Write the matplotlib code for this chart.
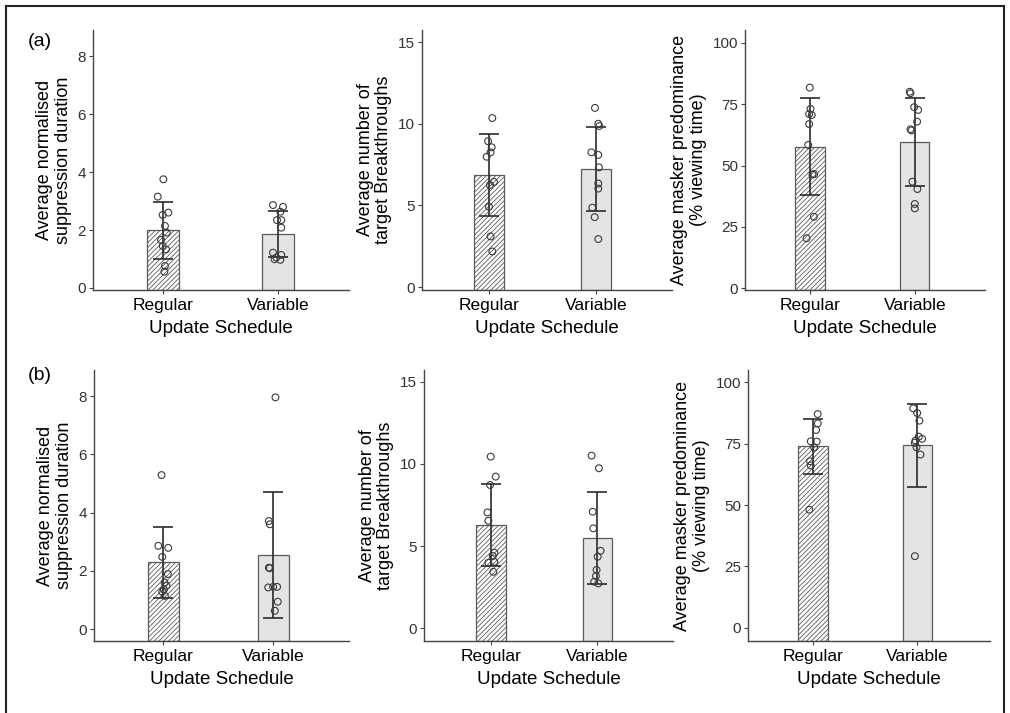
import matplotlib.pyplot as plt
from matplotlib.lines import Line2D

plt.rcParams['font.family'] = ['Liberation Sans', 'DejaVu Sans']
plt.rcParams['hatch.linewidth'] = 0.6

groups = ['Regular', 'Variable']

# ---- row (a) ----
# normalised suppression duration
a_dur_mean = [1.99, 1.86]
a_dur_err = [0.99, 0.80]
a_dur_reg = [3.75, 3.15, 2.6, 2.52, 2.14, 1.91, 1.66, 1.45, 1.33, 0.76, 0.56]
a_dur_var = [2.86, 2.8, 2.63, 2.34, 2.34, 2.08, 1.22, 1.14, 1.05, 0.97, 0.99]
a_dur_reg_jit = [0.003, -0.046, 0.046, -0.003, 0.017, 0.032, -0.017, -0.003, 0.026, 0.017, 0.012]
a_dur_var_jit = [-0.042, 0.045, 0.022, -0.007, 0.03, 0.03, -0.042, 0.03, -0.013, 0.022, -0.028]

# number of breakthroughs
a_brk_mean = [6.87, 7.22]
a_brk_err = [2.5, 2.57]
a_brk_reg = [10.35, 8.93, 8.56, 8.25, 7.98, 6.44, 6.25, 4.92, 3.1, 2.18]
a_brk_var = [10.97, 10.0, 9.86, 8.25, 8.09, 7.33, 6.34, 6.03, 4.86, 4.28, 2.94]
a_brk_reg_jit = [0.028, -0.012, 0.022, 0.012, -0.025, 0.044, 0.006, -0.003, 0.012, 0.028]
a_brk_var_jit = [-0.011, 0.02, 0.03, -0.045, 0.02, 0.026, 0.02, 0.02, -0.036, -0.014, 0.02]

# masker predominance
a_pre_mean = [57.7, 59.7]
a_pre_err = [19.7, 18.0]
a_pre_reg = [81.8, 73.1, 71.0, 70.6, 66.9, 58.4, 46.5, 46.3, 29.1, 20.3]
a_pre_var = [80.1, 79.5, 73.8, 72.7, 67.9, 64.8, 64.3, 43.4, 40.4, 34.3, 32.5]
a_pre_reg_jit = [-0.002, 0.005, -0.008, 0.017, -0.008, -0.017, 0.04, 0.024, 0.037, -0.033]
a_pre_var_jit = [-0.048, -0.041, -0.006, 0.032, 0.022, -0.041, -0.032, -0.022, 0.025, 0.0, 0.0]

# ---- row (b) ----
b_dur_mean = [2.29, 2.54]
b_dur_err = [1.22, 2.17]
b_dur_reg = [5.29, 2.86, 2.79, 2.48, 1.89, 1.6, 1.49, 1.36, 1.14, 1.28]
b_dur_var = [7.96, 3.71, 3.6, 2.11, 2.09, 1.43, 1.45, 1.45, 0.94, 0.63]
b_dur_reg_jit = [-0.015, -0.045, 0.045, -0.009, 0.042, 0.012, 0.03, 0.006, 0.015, -0.009]
b_dur_var_jit = [0.021, -0.039, -0.03, -0.039, -0.03, -0.045, 0.0, 0.036, 0.042, 0.015]

b_brk_mean = [6.28, 5.47]
b_brk_err = [2.5, 2.8]
b_brk_reg = [10.45, 9.23, 8.72, 7.05, 6.54, 4.59, 4.39, 3.98, 4.04, 3.43]
b_brk_var = [10.51, 9.74, 7.09, 6.08, 4.71, 4.35, 3.54, 3.17, 2.82, 2.72]
b_brk_reg_jit = [-0.003, 0.044, -0.009, -0.034, -0.025, 0.031, 0.016, -0.025, 0.031, 0.022]
b_brk_var_jit = [-0.055, 0.014, -0.045, -0.039, 0.03, 0.002, -0.008, -0.014, -0.03, 0.008]

b_pre_mean = [73.9, 74.2]
b_pre_err = [11.2, 16.8]
b_pre_reg = [87.0, 83.2, 80.5, 75.9, 75.8, 73.5, 67.8, 66.1, 48.1]
b_pre_var = [89.3, 87.4, 84.3, 77.8, 76.9, 76.2, 75.3, 73.5, 70.5, 29.2]
b_pre_reg_jit = [0.045, 0.045, 0.029, -0.022, 0.035, 0.01, -0.029, -0.022, -0.035]
b_pre_var_jit = [-0.038, 0.0, 0.022, 0.016, 0.048, -0.016, -0.022, -0.006, 0.032, -0.022]

dur_ticks = [0, 2, 4, 6, 8]
brk_ticks = [0, 5, 10, 15]
pre_ticks = [0, 25, 50, 75, 100]

dur_label = 'Average normalised\nsuppression duration'
brk_label = 'Average number of\ntarget Breakthroughs'
pre_label = 'Average masker predominance\n(% viewing time)'

W, H = 1010, 713
fig = plt.figure(figsize=(W / 100, H / 100), dpi=100)


def panel(box, xlim, ylim, mean, err, reg, var, reg_jit, var_jit, ticks, label):
    left, right, top, bottom = box
    ax = fig.add_axes([left / W, 1 - bottom / H, (right - left) / W, (bottom - top) / H])
    x = [1, 2]
    ymin = ylim[0]
    ax.bar(x[0], mean[0] - ymin, bottom=ymin, width=0.28, color='white',
           edgecolor='#5a5a5a', linewidth=0.9, hatch='///////', zorder=1)
    ax.bar(x[1], mean[1] - ymin, bottom=ymin, width=0.28, color='#e4e4e4',
           edgecolor='#5a5a5a', linewidth=0.9, zorder=1)
    ax.errorbar(x, mean, yerr=err, fmt='none', ecolor='#2b2b2b', elinewidth=1.2,
                capsize=7, capthick=1.2, zorder=2)
    ax.scatter([x[0] + j for j in reg_jit], reg, s=24, facecolors='none',
               edgecolors='#3a3a3a', linewidths=0.8, zorder=3)
    ax.scatter([x[1] + j for j in var_jit], var, s=24, facecolors='none',
               edgecolors='#3a3a3a', linewidths=0.8, zorder=3)
    ax.set_xlim(*xlim)
    ax.set_ylim(*ylim)
    ax.set_xticks(x)
    ax.set_xticklabels(groups, fontsize=12.5)
    ax.set_yticks(ticks)
    ax.tick_params(axis='y', labelsize=11, length=3, width=0.8, color='#444444',
                   labelcolor='#333333', pad=2)
    ax.tick_params(axis='x', length=3, width=0.8, color='#444444', pad=2.5)
    for s in ['top', 'right']:
        ax.spines[s].set_visible(False)
    for s in ['left', 'bottom']:
        ax.spines[s].set_color('#444444')
        ax.spines[s].set_linewidth(1.0)
    ax.set_ylabel(label, fontsize=13, labelpad=4, linespacing=1.15)
    ax.set_xlabel('Update Schedule', fontsize=13.5, labelpad=5.5)
    return ax


panel((93, 349, 30, 290), (0.39, 2.62), (-0.07, 8.9), a_dur_mean, a_dur_err,
      a_dur_reg, a_dur_var, a_dur_reg_jit, a_dur_var_jit, dur_ticks, dur_label)
panel((422, 672, 30, 290), (0.37, 2.71), (-0.18, 15.74), a_brk_mean, a_brk_err,
      a_brk_reg, a_brk_var, a_brk_reg_jit, a_brk_var_jit, brk_ticks, brk_label)
panel((745, 985, 30, 290), (0.38, 2.67), (-0.8, 105.3), a_pre_mean, a_pre_err,
      a_pre_reg, a_pre_var, a_pre_reg_jit, a_pre_var_jit, pre_ticks, pre_label)
panel((94, 349, 370, 641), (0.37, 2.69), (-0.41, 8.9), b_dur_mean, b_dur_err,
      b_dur_reg, b_dur_var, b_dur_reg_jit, b_dur_var_jit, dur_ticks, dur_label)
panel((424, 673, 370, 641), (0.37, 2.71), (-0.79, 15.73), b_brk_mean, b_brk_err,
      b_brk_reg, b_brk_var, b_brk_reg_jit, b_brk_var_jit, brk_ticks, brk_label)
panel((748, 990, 370, 641), (0.375, 2.70), (-5.3, 104.9), b_pre_mean, b_pre_err,
      b_pre_reg, b_pre_var, b_pre_reg_jit, b_pre_var_jit, pre_ticks, pre_label)

fig.text(40 / W, 1 - 42 / H, '(a)', fontsize=14, ha='center', va='center')
fig.text(40 / W, 1 - 376 / H, '(b)', fontsize=14, ha='center', va='center')

# outer frame
for xs, ys in [((6, 6), (6, 713)), ((6, 1004), (6, 6)), ((1004, 1004), (6, 713))]:
    fig.add_artist(Line2D([v / W for v in xs], [1 - v / H for v in ys],
                          color='#222222', linewidth=1.5))

fig.savefig('out.png', dpi=100)
